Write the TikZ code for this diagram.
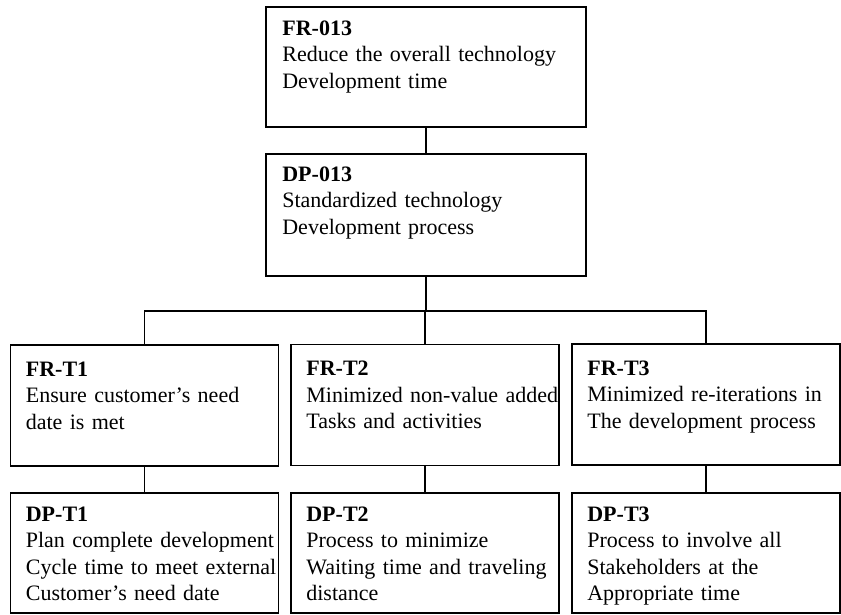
\documentclass[tikz,border=0pt]{standalone}
\usepackage{fontspec}
\setmainfont{Liberation Serif}
\begin{document}
\begin{tikzpicture}[x=1pt,y=-1pt,
  box/.style={draw=black,line width=1.7pt,rectangle,inner sep=0pt,
    minimum width=268pt,minimum height=121pt},
  topbox/.style={box,minimum width=320pt},
  txt/.style={anchor=base west,inner sep=0pt,text width=300pt,align=left,
    font=\fontsize{22}{26.5}\selectfont},
  link/.style={draw=black,line width=1.7pt}]
\useasboundingbox (0,0) rectangle (841,614);

% top level: FR-013 and its design parameter
\node[topbox,minimum height=120pt] (fr013) at (426,67) {};
\node[topbox,minimum height=122pt] (dp013) at (426,215) {};
\node[txt] (t-fr013) at ([xshift=17pt,yshift=-29pt]fr013.north west)
  {\textbf{FR-013}\\Reduce the overall technology\\Development time};
\node[txt] (t-dp013) at ([xshift=17pt,yshift=-28pt]dp013.north west)
  {\textbf{DP-013}\\Standardized technology\\Development process};

% second level: functional requirements
\node[box] (frt1) at (144.5,405.5) {};
\node[box] (frt2) at (425,405) {};
\node[box] (frt3) at (706,404.5) {};
\node[txt] (t-frt1) at ([xshift=16pt,yshift=-32pt]frt1.north west)
  {\textbf{FR-T1}\\Ensure customer’s need\\date is met};
\node[txt] (t-frt2) at ([xshift=16pt,yshift=-32pt]frt2.north west)
  {\textbf{FR-T2}\\Minimized non-value added\\Tasks and activities};
\node[txt] (t-frt3) at ([xshift=16pt,yshift=-32pt]frt3.north west)
  {\textbf{FR-T3}\\Minimized re-iterations in\\The development process};

% second level: design parameters
\node[box,minimum height=120pt] (dpt1) at (144.5,553) {};
\node[box,minimum height=120pt] (dpt2) at (425,553) {};
\node[box,minimum height=120pt] (dpt3) at (706,553) {};
\node[txt] (t-dpt1) at ([xshift=16pt,yshift=-29pt]dpt1.north west)
  {\textbf{DP-T1}\\Plan complete development\\Cycle time to meet external\\Customer’s need date};
\node[txt] (t-dpt2) at ([xshift=16pt,yshift=-29pt]dpt2.north west)
  {\textbf{DP-T2}\\Process to minimize\\Waiting time and traveling\\distance};
\node[txt] (t-dpt3) at ([xshift=16pt,yshift=-29pt]dpt3.north west)
  {\textbf{DP-T3}\\Process to involve all\\Stakeholders at the\\Appropriate time};

% connectors
\coordinate (bus) at (426,311);
\draw[link] (fr013.south) -- (dp013.north);
\draw[link] (dp013.south) -- (bus);
\draw[link] (frt1.north) |- (bus) -| (frt3.north);
\draw[link] (frt2.north) -- (frt2.north |- bus);
\draw[link] (frt1.south) -- (dpt1.north);
\draw[link] (frt2.south) -- (dpt2.north);
\draw[link] (frt3.south) -- (dpt3.north);
\end{tikzpicture}
\end{document}
